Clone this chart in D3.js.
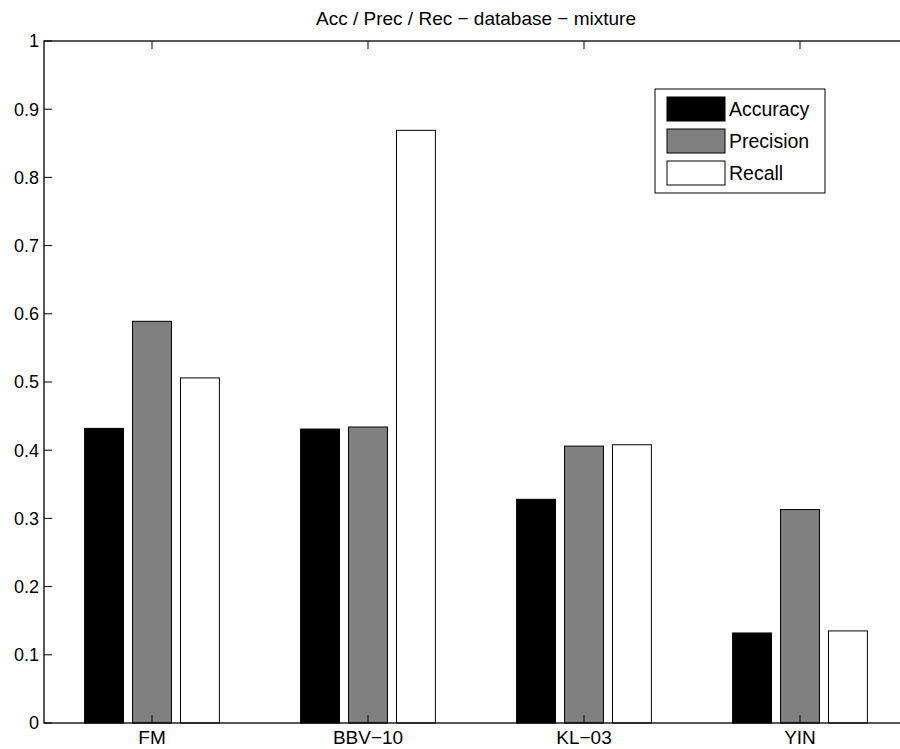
<!DOCTYPE html>
<html><head><meta charset="utf-8">
<script src="https://cdn.jsdelivr.net/npm/d3@7"></script>
<style>body{margin:0;background:#fff}svg{display:block}text{font-family:"Liberation Sans",Arial,sans-serif;fill:#000}</style>
</head><body><svg id="c" width="900" height="749"></svg>
<script>
const categories = ["FM", "BBV\u221210", "KL\u221203", "YIN"];
const seriesNames = ["Accuracy", "Precision", "Recall"];
const accuracy = [0.432, 0.431, 0.328, 0.132];
const precision = [0.589, 0.434, 0.406, 0.313];
const recall = [0.506, 0.869, 0.408, 0.135];
const yTicks = [0, 0.1, 0.2, 0.3, 0.4, 0.5, 0.6, 0.7, 0.8, 0.9, 1];
const colors = ["#000000", "#808080", "#ffffff"];
const title = "Acc / Prec / Rec \u2212 database \u2212 mixture";

(function () {
const series = [accuracy, precision, recall];
const svg = d3.select("#c");
const L = 44, R = 908, T = 41, B = 723;
const x = d3.scaleLinear().domain([0.5, 4.5]).range([L, R]);
const y = d3.scaleLinear().domain([0, 1]).range([B, T]);
const offsets = [-0.222, 0, 0.222];
const bw = 0.18;

series.forEach((vals, s) => {
  svg.append("g").selectAll("rect").data(vals).join("rect")
    .attr("x", (d, i) => x(i + 1 + offsets[s] - bw / 2))
    .attr("width", x(bw) - x(0))
    .attr("y", d => y(d))
    .attr("height", d => y(0) - y(d))
    .attr("fill", colors[s])
    .attr("stroke", "#000").attr("stroke-width", 1);
});

const ax = svg.append("g");
ax.append("rect").attr("x", L).attr("y", T).attr("width", R - L).attr("height", B - T)
  .attr("fill", "none").attr("stroke", "#000").attr("stroke-width", 1.3);

const tl = 8;
yTicks.forEach(t => {
  ax.append("line").attr("x1", L).attr("x2", L + tl).attr("y1", y(t)).attr("y2", y(t)).attr("stroke", "#000");
  ax.append("line").attr("x1", R).attr("x2", R - tl).attr("y1", y(t)).attr("y2", y(t)).attr("stroke", "#000");
  ax.append("text").attr("x", L - 5).attr("y", y(t)).attr("dy", "0.36em").attr("text-anchor", "end")
    .attr("font-size", 18).text(d3.format("~g")(t));
});
categories.forEach((c, i) => {
  const px = x(i + 1);
  ax.append("line").attr("x1", px).attr("x2", px).attr("y1", T).attr("y2", T + tl).attr("stroke", "#000");
  ax.append("line").attr("x1", px).attr("x2", px).attr("y1", B).attr("y2", B - tl).attr("stroke", "#000");
  ax.append("text").attr("x", px).attr("y", B + 21).attr("text-anchor", "middle")
    .attr("font-size", 19).text(c);
});

svg.append("text").attr("x", (L + R) / 2).attr("y", 25).attr("text-anchor", "middle")
  .attr("font-size", 19).text(title);

const lg = svg.append("g");
lg.append("rect").attr("x", 655).attr("y", 89).attr("width", 170).attr("height", 104)
  .attr("fill", "#fff").attr("stroke", "#000");
seriesNames.forEach((n, i) => {
  const yy = 97 + i * 32;
  lg.append("rect").attr("x", 667).attr("y", yy).attr("width", 58).attr("height", 24)
    .attr("fill", colors[i]).attr("stroke", "#000");
  lg.append("text").attr("x", 729).attr("y", yy + 12).attr("dy", "0.36em").attr("font-size", 19.5).text(n);
});
})();
</script></body></html>
